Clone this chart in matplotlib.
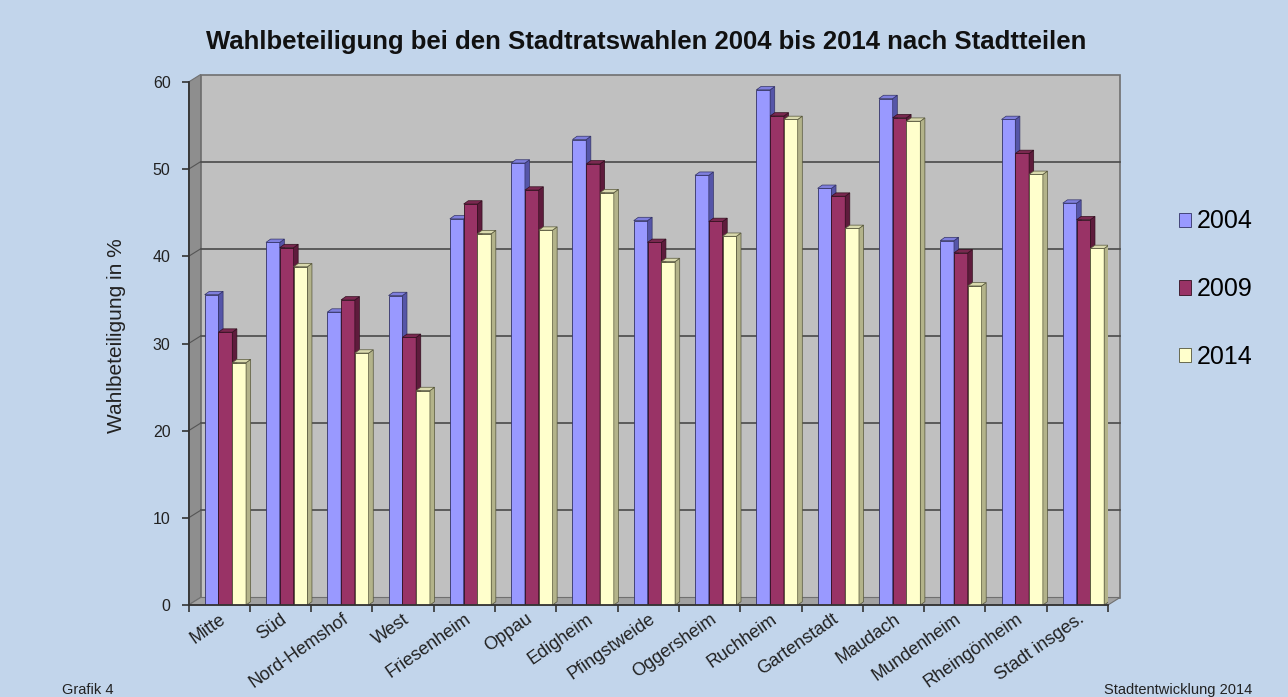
import numpy as np
import matplotlib
matplotlib.use('Agg')
from matplotlib import pyplot as plt
from matplotlib.patches import Polygon
from matplotlib.ticker import MultipleLocator

plt.rcParams['font.family'] = ['Liberation Sans', 'DejaVu Sans']

stadtteile = ["Mitte", "Süd", "Nord-Hemshof", "West", "Friesenheim", "Oppau",
              "Edigheim", "Pfingstweide", "Oggersheim", "Ruchheim", "Gartenstadt",
              "Maudach", "Mundenheim", "Rheingönheim", "Stadt insges."]
jahre = ["2004", "2009", "2014"]
w2004 = [35.6, 41.6, 33.6, 35.5, 44.3, 50.7, 53.4, 44.1, 49.3, 59.1, 47.8, 58.1, 41.8, 55.7, 46.1]
w2009 = [31.3, 41.0, 35.0, 30.7, 46.0, 47.6, 50.6, 41.6, 44.0, 56.1, 46.9, 55.9, 40.4, 51.8, 44.2]
w2014 = [27.8, 38.8, 28.9, 24.6, 42.6, 43.0, 47.3, 39.4, 42.3, 55.7, 43.2, 55.5, 36.6, 49.4, 40.9]
werte = [w2004, w2009, w2014]

front = ["#9999FF", "#993366", "#FFFFCC"]
side = ["#5555A8", "#5E1B3C", "#B3B38A"]
top = ["#7F7FDD", "#7A2850", "#DADAAE"]
edge = ["#333366", "#33101F", "#55553A"]

bg = "#C2D5EB"
fig = plt.figure(figsize=(12.88, 6.97), dpi=100, facecolor=bg)
ax = fig.add_axes([188.6 / 1288, 1 - 605 / 697, 919.4 / 1288, 523 / 697])
ax.set_facecolor("none")
n = len(stadtteile)
ax.set_xlim(-0.5, n - 0.5)
ax.set_ylim(0, 60)

# 3D look: offsets of back wall and bar depth (in data units)
wdx, wdy = 0.196, 0.86
bdx, bdy = 0.075, 0.38
x0, x1 = -0.5, n - 0.5

# back wall, left wall, floor
ax.add_patch(Polygon([(x0 + wdx, wdy), (x1 + wdx, wdy), (x1 + wdx, 60 + wdy), (x0 + wdx, 60 + wdy)],
                     closed=True, fc="#C0C0C0", ec="#707070", lw=1.2, zorder=0, clip_on=False))
ax.add_patch(Polygon([(x0, 0), (x0 + wdx, wdy), (x0 + wdx, 60 + wdy), (x0, 60)],
                     closed=True, fc="#8E8E8E", ec="#707070", lw=0.8, zorder=0, clip_on=False))
ax.add_patch(Polygon([(x0, 0), (x1, 0), (x1 + wdx, wdy), (x0 + wdx, wdy)],
                     closed=True, fc="#A2A2A2", ec="#707070", lw=0.8, zorder=1, clip_on=False))
for g in range(10, 60, 10):
    ax.plot([x0 + wdx, x1 + wdx], [g + wdy, g + wdy], color="#4A4A4A", lw=1.2, zorder=1, clip_on=False)
    ax.plot([x0, x0 + wdx], [g, g + wdy], color="#555555", lw=0.8, zorder=1, clip_on=False)

bw = 0.225
x = np.arange(n)
handles = []
for k, vals in enumerate(werte):
    xs = x + 0.1 + (k - 1) * bw
    b = ax.bar(xs, vals, width=bw, color=front[k], edgecolor=edge[k], lw=0.6,
               zorder=3 + k, label=jahre[k])
    handles.append(b)
    for xc, v in zip(xs, vals):
        l, r = xc - bw / 2, xc + bw / 2
        ax.add_patch(Polygon([(r, 0), (r + bdx, bdy), (r + bdx, v + bdy), (r, v)],
                             closed=True, fc=side[k], ec=edge[k], lw=0.5, zorder=3 + k))
        ax.add_patch(Polygon([(l, v), (r, v), (r + bdx, v + bdy), (l + bdx, v + bdy)],
                             closed=True, fc=top[k], ec=edge[k], lw=0.5, zorder=3 + k))

for s in ["top", "right"]:
    ax.spines[s].set_visible(False)
for s in ["left", "bottom"]:
    ax.spines[s].set_color("#333333")
    ax.spines[s].set_linewidth(1.3)
    ax.spines[s].set_zorder(10)

ax.yaxis.set_major_locator(MultipleLocator(10))
ax.tick_params(axis="y", direction="out", length=5, width=1.2, color="#333333",
               labelsize=11.5, labelcolor="#222222", pad=8)
ax.set_xticks(x)
ax.set_xticks(np.arange(-0.5, n, 1.0), minor=True)
ax.tick_params(axis="x", which="major", length=0, pad=4)
ax.tick_params(axis="x", which="minor", direction="out", length=5, width=1.2, color="#333333")
ax.set_xticklabels(stadtteile, rotation=35, ha="right", va="top", rotation_mode="anchor",
                   fontsize=13, color="#222222")

ax.set_ylabel("Wahlbeteiligung in %", fontsize=15, color="#222222", labelpad=19)
ax.yaxis.label.set_y(0.516)

fig.text(0.502, 1 - 42 / 697, "Wahlbeteiligung bei den Stadtratswahlen 2004 bis 2014 nach Stadtteilen",
         ha="center", va="center", fontsize=18.5, fontweight="bold", color="#111111")
fig.text(62 / 1288, 1 - 690 / 697, "Grafik 4", ha="left", va="center", fontsize=10.5, color="#222222")
fig.text(1252 / 1288, 1 - 690 / 697, "Stadtentwicklung 2014", ha="right", va="center",
         fontsize=10.5, color="#222222")

fig.legend(handles=handles, labels=jahre, loc="upper left", bbox_to_anchor=(1156 / 1288, 1 - 187 / 697),
           frameon=False, fontsize=18, handlelength=0.5, handleheight=0.5, handletextpad=0.25,
           labelspacing=1.75)

fig.savefig("out.png", dpi=100, facecolor=bg)
